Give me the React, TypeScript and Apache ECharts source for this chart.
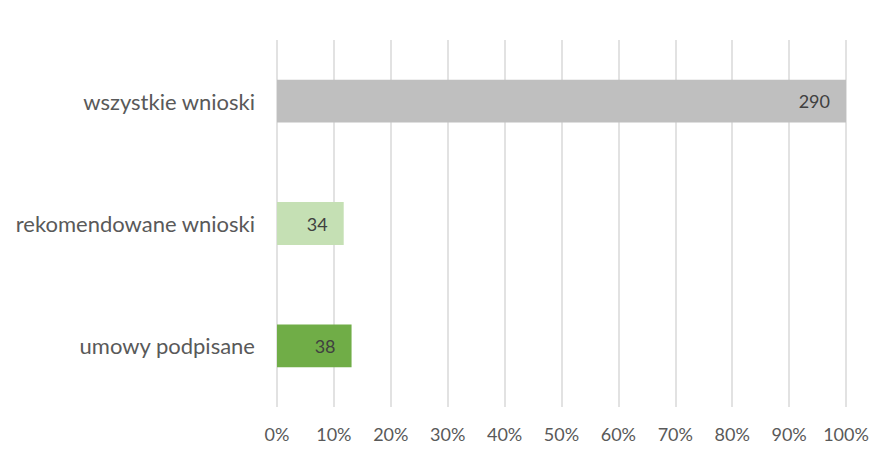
import React, { useEffect, useRef } from "react";
import * as echarts from "echarts";

const categories = ["wszystkie wnioski", "rekomendowane wnioski", "umowy podpisane"];
const counts = [290, 34, 38];
const barColors = ["#BFBFBF", "#C5E0B4", "#70AD47"];
const total = 290;
const tickCount = 10;

export default function App() {
  const ref = useRef<HTMLDivElement>(null);
  useEffect(() => {
    if (!ref.current) return;
    const chart = echarts.init(ref.current, null, { renderer: "svg" });
    const font = "Lato, 'Open Sans', sans-serif";
    chart.setOption({
      animation: false,
      grid: { left: 277, right: 43, top: 40, bottom: 50, containLabel: false },
      xAxis: {
        type: "value",
        min: 0,
        max: total,
        interval: total / tickCount,
        axisLine: { show: false },
        axisTick: { show: false },
        splitLine: { show: true, lineStyle: { color: "#D9D9D9", width: 1.5 } },
        axisLabel: {
          color: "#595959",
          fontFamily: font,
          fontSize: 18,
          margin: 18,
          formatter: (v: number) => Math.round((v / total) * 100) + "%",
        },
      },
      yAxis: {
        type: "category",
        data: categories,
        inverse: true,
        axisLine: { show: false },
        axisTick: { show: false },
        axisLabel: { color: "#595959", fontFamily: font, fontSize: 22, margin: 22 },
      },
      series: [
        {
          type: "bar",
          barWidth: "35%",
          data: counts.map((v, i) => ({ value: v, itemStyle: { color: barColors[i] } })),
          label: {
            show: true,
            position: "insideRight",
            distance: 16,
            color: "#404040",
            fontFamily: font,
            fontSize: 18,
          },
        },
      ],
    });
    return () => chart.dispose();
  }, []);
  return <div ref={ref} style={{ width: 889, height: 457, position: "absolute", left: 0, top: 0 }} />;
}
